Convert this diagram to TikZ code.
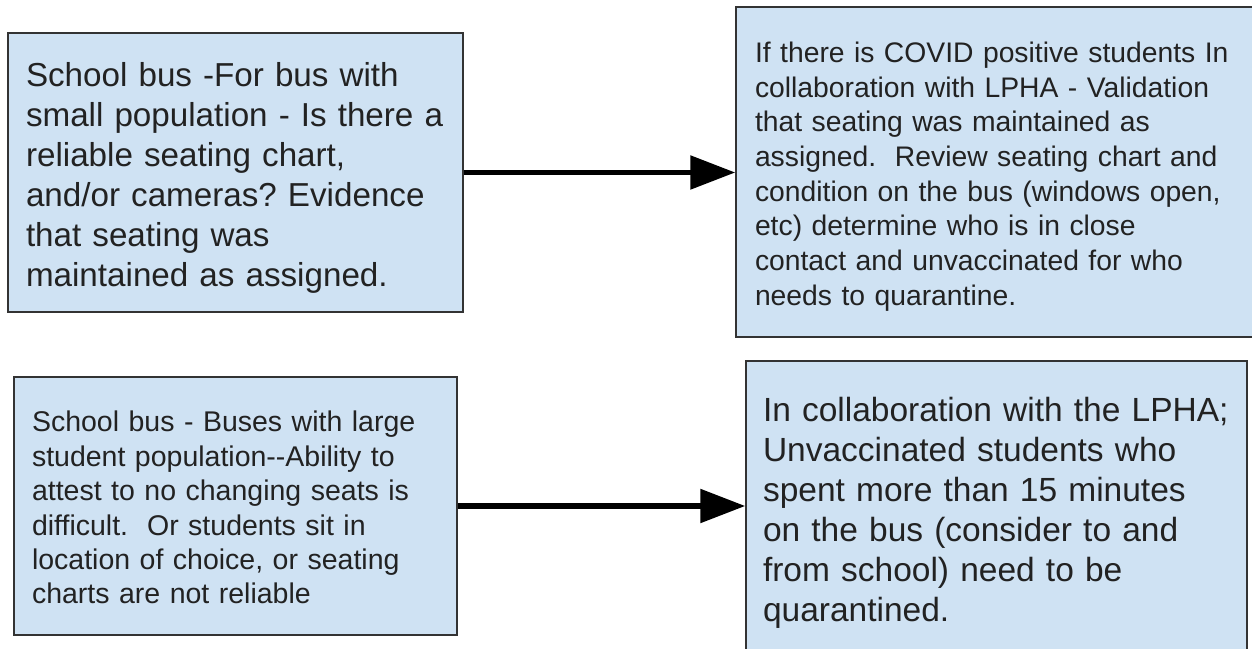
\documentclass[tikz,border=0pt]{standalone}
\usepackage{fontspec}
\setmainfont{Liberation Sans}
\usetikzlibrary{arrows.meta}
\definecolor{boxblue}{HTML}{CFE2F3}
\definecolor{boxline}{HTML}{333333}
\definecolor{ink}{HTML}{222222}
\frenchspacing
% struts so that every box centres its lines the same way
\newcommand{\boxtop}{\rule{0pt}{\dimexpr0.98em+3pt\relax}}
\newcommand{\boxbot}{\rule[-0.25em]{0pt}{0pt}}

\begin{document}
\begin{tikzpicture}[x=1pt,y=1pt]
            \tikzstyle{box}=[rectangle, fill=boxblue, draw=boxline, line width=1.5pt, align=left, text=ink, inner xsep=18pt, inner ysep=0pt]
            \tikzstyle{edge}=[black, line width=5.5pt, -{Triangle[length=45pt,width=33pt]}]

            \useasboundingbox (0,0) rectangle (1252,648);
            \clip (0,0) rectangle (1252,648);

            \node[box, text width=419pt, minimum height=279pt, font=\fontsize{33.2}{40}\selectfont] (small) at (235.5,475.5)
                {\mbox{\boxtop School bus -For bus with}\\\mbox{small population - Is there a}\\\mbox{reliable seating chart,}\\\mbox{and/or cameras? Evidence}\\\mbox{that seating was}\\\mbox{maintained as assigned.\boxbot}};
            \node[box, inner xsep=19pt, text width=488pt, minimum height=330pt, font=\fontsize{28.3}{34.7}\selectfont] (covid) at (999,476)
                {\mbox{\boxtop If there is COVID positive students In}\\\mbox{collaboration with LPHA - Validation}\\\mbox{that seating was maintained as}\\\mbox{assigned.~ Review seating chart and}\\\mbox{condition on the bus (windows open,}\\\mbox{etc) determine who is in close}\\\mbox{contact and unvaccinated for who}\\\mbox{needs to quarantine.\boxbot}};
            \node[box, text width=407pt, minimum height=258pt, font=\fontsize{28.5}{34.4}\selectfont] (large) at (235.5,142)
                {\mbox{\boxtop School bus - Buses with large}\\\mbox{student population{-}{-}Ability to}\\\mbox{attest to no changing seats is}\\\mbox{difficult.~ Or students sit in}\\\mbox{location of choice, or seating}\\\mbox{charts are not reliable\boxbot}};
            \node[box, inner xsep=17pt, text width=467pt, minimum height=294pt, font=\fontsize{33.5}{40}\selectfont] (quar) at (996.5,140)
                {\mbox{\boxtop In collaboration with the LPHA;}\\\mbox{Unvaccinated students who}\\\mbox{spent more than 15 minutes}\\\mbox{on the bus (consider to and}\\\mbox{from school) need to be}\\\mbox{quarantined.\boxbot}};

            \draw[edge] (small.east) -- (small.east -| covid.west);
            \draw[edge] (large.east) -- (large.east -| quar.west);
        \end{tikzpicture}
\end{document}
